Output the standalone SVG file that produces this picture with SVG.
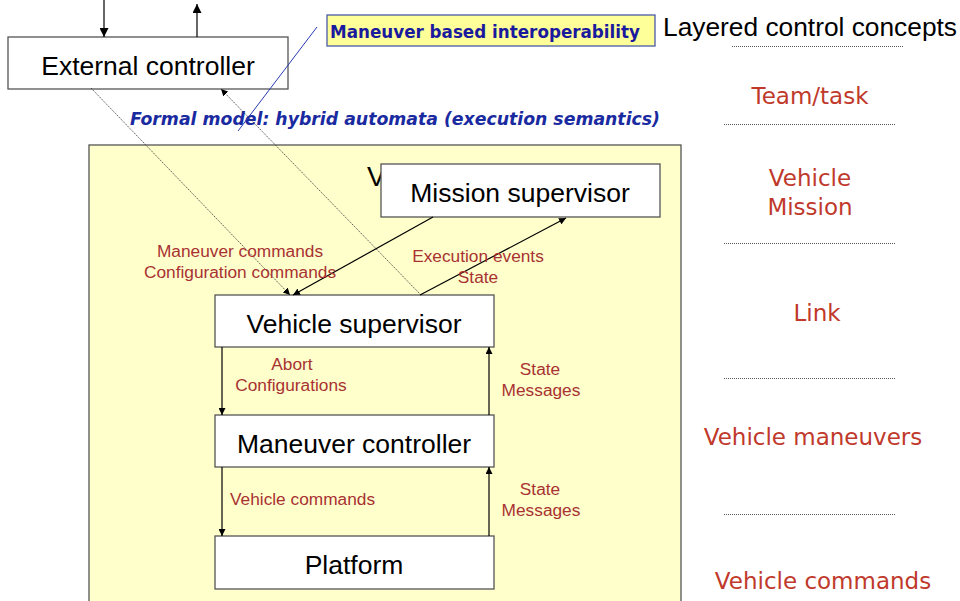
<svg xmlns="http://www.w3.org/2000/svg" width="960" height="601" viewBox="0 0 960 601">
<defs>
<marker id="ah" viewBox="0 0 10 10" refX="10" refY="5" markerWidth="7" markerHeight="7" markerUnits="userSpaceOnUse" orient="auto"><path d="M0,0 L10,5 L0,10 z" fill="#000"/></marker>
<marker id="ahs" viewBox="0 0 10 10" refX="10" refY="5" markerWidth="9" markerHeight="9" markerUnits="userSpaceOnUse" orient="auto"><path d="M0,0 L10,5 L0,10 z" fill="#000"/></marker>
<style>
.box{fill:#fff;stroke:#555;stroke-width:1.3}
.nl{font-family:"Liberation Sans",Arial,sans-serif;font-size:26.5px;fill:#000;text-anchor:middle}
.cl{font-family:"Liberation Sans",Arial,sans-serif;font-size:17.3px;fill:#a83232;text-anchor:middle}
.rl{font-family:"DejaVu Sans",Verdana,sans-serif;font-size:23px;fill:#c0392b;text-anchor:middle}
.dot{stroke:#555;stroke-width:1;stroke-dasharray:1 1;fill:none}
.sol{stroke:#000;stroke-width:1.2;fill:none}
.thin{stroke:#333;stroke-width:0.8;stroke-dasharray:1.5 1;fill:none}
</style>
</defs>
<rect width="960" height="601" fill="#fff"/>

<g id="vehicle">
<rect x="89" y="145" width="592" height="470" fill="#ffffcc" stroke="#555" stroke-width="1.3"/>
<text x="367" y="186" font-family="Liberation Sans,Arial,sans-serif" font-size="28" fill="#000">Vehicle</text>
</g>

<g id="title">
<text x="663" y="36" font-family="Liberation Sans,Arial,sans-serif" font-size="26.5" fill="#000" textLength="294" lengthAdjust="spacingAndGlyphs">Layered control concepts</text>
</g>

<g id="interop">
<rect x="327" y="15" width="328" height="31" fill="#ffff99" stroke="#4a5aa8" stroke-width="1.3"/>
<text x="330" y="38" font-family="DejaVu Sans,Verdana,sans-serif" font-weight="600" font-size="18" fill="#1a1a9e" textLength="310" lengthAdjust="spacingAndGlyphs">Maneuver based interoperability</text>
</g>

<g id="formal">
<text x="130" y="125" font-family="DejaVu Sans,Verdana,sans-serif" font-weight="bold" font-style="italic" font-size="18.5" fill="#1a2aa0" textLength="530" lengthAdjust="spacingAndGlyphs">Formal model: hybrid automata (execution semantics)</text>
</g>

<g id="external">
<rect class="box" x="8" y="37" width="280" height="52"/>
<text class="nl" x="148" y="75">External controller</text>
</g>

<g id="mission">
<rect class="box" x="381" y="164" width="279" height="53"/>
<text class="nl" x="520" y="202">Mission supervisor</text>
</g>

<g id="vsup">
<rect class="box" x="215" y="295" width="279" height="52"/>
<text class="nl" x="354" y="333">Vehicle supervisor</text>
</g>

<g id="mctrl">
<rect class="box" x="215" y="415" width="279" height="52"/>
<text class="nl" x="354" y="453">Maneuver controller</text>
</g>

<g id="platform">
<rect class="box" x="215" y="536" width="279" height="53"/>
<text class="nl" x="354" y="574">Platform</text>
</g>

<g id="connectors">
<line class="sol" x1="104" y1="0" x2="104" y2="37" marker-end="url(#ahs)"/>
<line class="sol" x1="197" y1="37" x2="197" y2="4" marker-end="url(#ahs)"/>
<line x1="317" y1="27" x2="238" y2="131" stroke="#2a3ab0" stroke-width="1"/>
<line class="thin" x1="91" y1="88" x2="290" y2="295" marker-end="url(#ah)"/>
<line class="thin" x1="421" y1="295" x2="221" y2="89" marker-end="url(#ah)"/>
<line class="sol" x1="433" y1="217" x2="293" y2="295" marker-end="url(#ah)"/>
<line class="sol" x1="420" y1="295" x2="566" y2="218" marker-end="url(#ah)"/>
<line class="sol" x1="222" y1="347" x2="222" y2="415" marker-end="url(#ah)"/>
<line class="sol" x1="489" y1="415" x2="489" y2="347" marker-end="url(#ah)"/>
<line class="sol" x1="222" y1="467" x2="222" y2="536" marker-end="url(#ah)"/>
<line class="sol" x1="489" y1="536" x2="489" y2="467" marker-end="url(#ah)"/>
</g>

<g id="labels">
<text class="cl" x="240" y="257">Maneuver commands</text>
<text class="cl" x="240" y="278">Configuration commands</text>
<text class="cl" x="478" y="262">Execution events</text>
<text class="cl" x="478" y="283">State</text>
<text class="cl" x="292" y="370">Abort</text>
<text class="cl" x="291" y="391">Configurations</text>
<text class="cl" x="540" y="375">State</text>
<text class="cl" x="541" y="396">Messages</text>
<text class="cl" x="230" y="505" style="text-anchor:start">Vehicle commands</text>
<text class="cl" x="540" y="495">State</text>
<text class="cl" x="541" y="516">Messages</text>
</g>

<g id="layers">
<line class="dot" x1="732" y1="46.5" x2="903" y2="46.5"/>
<text class="rl" x="810" y="104">Team/task</text>
<line class="dot" x1="724" y1="124.5" x2="896" y2="124.5"/>
<text class="rl" x="810" y="186">Vehicle</text>
<text class="rl" x="810" y="215">Mission</text>
<line class="dot" x1="724" y1="243.5" x2="896" y2="243.5"/>
<text class="rl" x="817" y="321">Link</text>
<line class="dot" x1="724" y1="378.5" x2="896" y2="378.5"/>
<text class="rl" x="813" y="445">Vehicle maneuvers</text>
<line class="dot" x1="724" y1="514.5" x2="896" y2="514.5"/>
<text class="rl" x="823" y="589">Vehicle commands</text>
</g>
</svg>
